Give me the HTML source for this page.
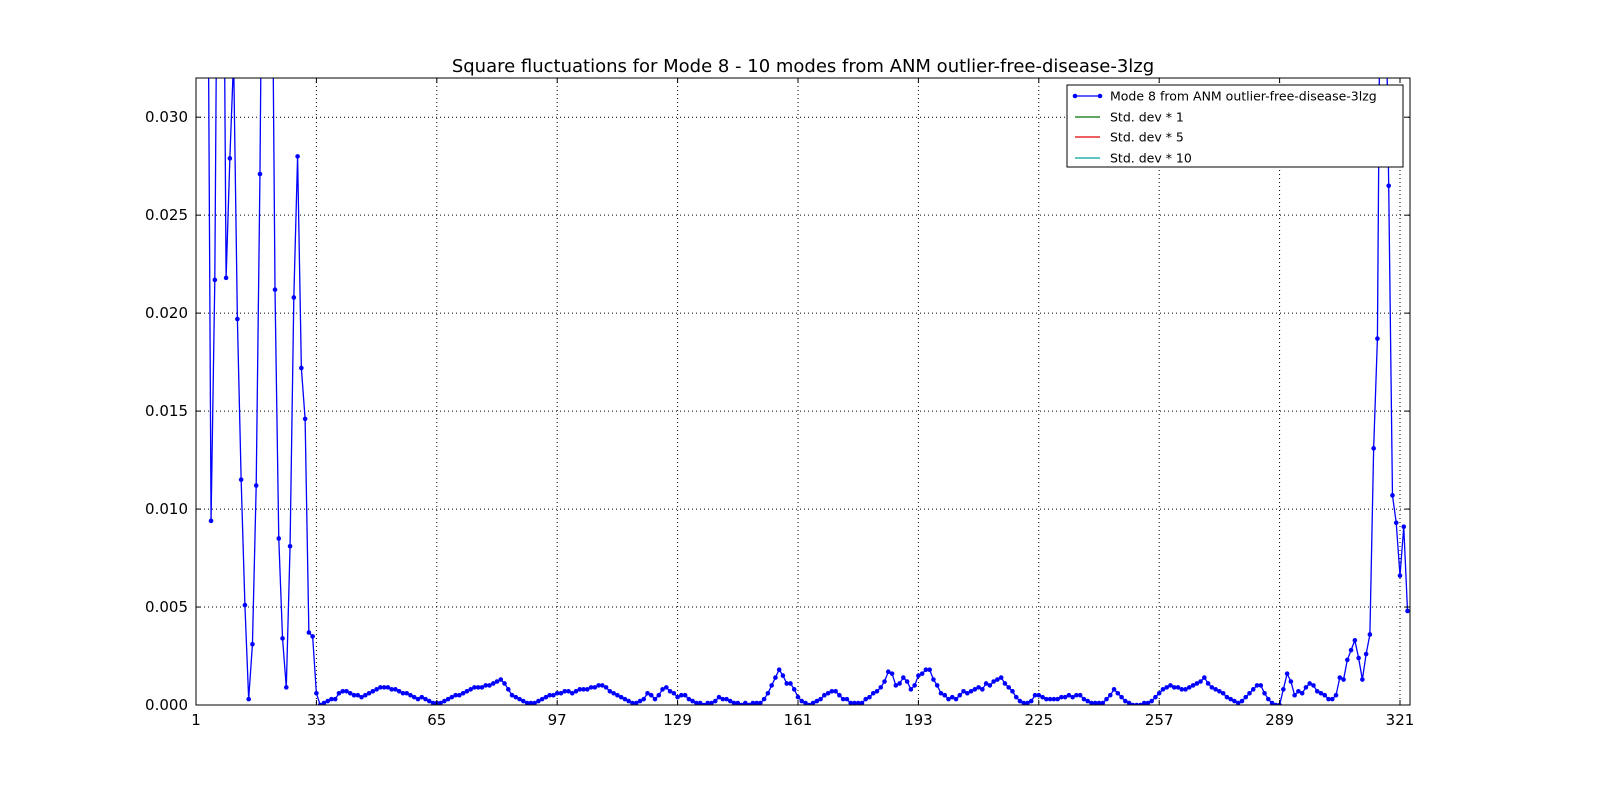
<!DOCTYPE html>
<html><head><meta charset="utf-8"><style>
body{margin:0;background:#fff}
svg text{font-family:"DejaVu Sans","Liberation Sans",sans-serif;fill:#000}
</style></head><body>
<svg id="chart" width="1600" height="800">
<text x="803" y="72" font-size="18" text-anchor="middle">Square fluctuations for Mode 8 - 10 modes from ANM outlier-free-disease-3lzg</text>
<defs><clipPath id="plotclip"><rect x="196" y="78" width="1214" height="627"/></clipPath></defs>
<g id="grid"></g>
<g id="series" clip-path="url(#plotclip)"></g>
<rect x="196" y="78" width="1214" height="627" fill="none" stroke="#000" stroke-width="1"/>
<g id="axes"></g>
<g>
<rect x="1067" y="85" width="336" height="82" fill="#fff" stroke="#000"/>
<g><line x1="1075" y1="96" x2="1100" y2="96" stroke="#0000ff" stroke-width="1.2"/><circle cx="1075" cy="96" r="2.3" fill="#0000ff"/><circle cx="1100" cy="96" r="2.3" fill="#0000ff"/><text x="1110" y="100.5" font-size="12.5">Mode 8 from ANM outlier-free-disease-3lzg</text></g>
<g><line x1="1075" y1="117" x2="1100" y2="117" stroke="#007000" stroke-width="1.2"/><text x="1110" y="121.5" font-size="12.5">Std. dev * 1</text></g>
<g><line x1="1075" y1="137" x2="1100" y2="137" stroke="#e00000" stroke-width="1.2"/><text x="1110" y="141.5" font-size="12.5">Std. dev * 5</text></g>
<g><line x1="1075" y1="158" x2="1100" y2="158" stroke="#00a0a0" stroke-width="1.2"/><text x="1110" y="162.5" font-size="12.5">Std. dev * 10</text></g>
</g>
</svg>
<script>
const xTicks=[1,33,65,97,129,161,193,225,257,289,321];
const yTicks=[0,0.005,0.010,0.015,0.020,0.025,0.030];
const yTickLabels=["0.000","0.005","0.010","0.015","0.020","0.025","0.030"];
const fluct=[
.06,.06,.05,.045,.0094,.0217,.05,.05,.0218,.0279,
.033,.0197,.0115,.0051,.0003,.0031,.0112,.0271,.05,.05,
.045,.0212,.0085,.0034,.0009,.0081,.0208,.0280,.0172,.0146,
.0037,.0035,.0006,.0000,.0001,.0002,.0003,.0003,.0006,.0007,
.0007,.0006,.0005,.0005,.0004,.0005,.0006,.0007,.0008,.0009,
.0009,.0009,.0008,.0008,.0007,.0006,.0006,.0005,.0004,.0003,
.0004,.0003,.0002,.0001,.0001,.0001,.0002,.0003,.0004,.0005,
.0005,.0006,.0007,.0008,.0009,.0009,.0009,.0010,.0010,.0011,
.0012,.0013,.0011,.0008,.0005,.0004,.0003,.0002,.0001,.0001,
.0001,.0002,.0003,.0004,.0005,.0005,.0006,.0006,.0007,.0007,
.0006,.0007,.0008,.0008,.0008,.0009,.0009,.0010,.0010,.0009,
.0007,.0006,.0005,.0004,.0003,.0002,.0001,.0001,.0002,.0003,
.0006,.0005,.0003,.0005,.0008,.0009,.0007,.0006,.0004,.0005,
.0005,.0003,.0002,.0001,.0001,.0000,.0001,.0001,.0002,.0004,
.0003,.0003,.0002,.0001,.0001,.0000,.0001,.0000,.0001,.0001,
.0001,.0003,.0006,.0010,.0014,.0018,.0015,.0011,.0011,.0008,
.0004,.0002,.0001,.0000,.0001,.0002,.0003,.0005,.0006,.0007,
.0007,.0005,.0003,.0003,.0001,.0001,.0001,.0001,.0003,.0004,
.0006,.0007,.0009,.0012,.0017,.0016,.0010,.0011,.0014,.0012,
.0008,.0010,.0015,.0016,.0018,.0018,.0013,.0010,.0006,.0005,
.0003,.0004,.0003,.0005,.0007,.0006,.0007,.0008,.0009,.0008,
.0011,.0010,.0012,.0013,.0014,.0011,.0009,.0007,.0004,.0002,
.0001,.0001,.0002,.0005,.0005,.0004,.0003,.0003,.0003,.0003,
.0004,.0004,.0005,.0004,.0005,.0005,.0003,.0002,.0001,.0001,
.0001,.0001,.0003,.0005,.0008,.0006,.0004,.0002,.0001,.0000,
.0000,.0000,.0001,.0001,.0002,.0004,.0006,.0008,.0009,.0010,
.0009,.0009,.0008,.0008,.0009,.0010,.0011,.0012,.0014,.0011,
.0009,.0008,.0007,.0006,.0004,.0003,.0002,.0001,.0002,.0004,
.0006,.0008,.0010,.0010,.0006,.0003,.0001,.0000,.0000,.0008,
.0016,.0012,.0005,.0007,.0006,.0009,.0011,.0010,.0007,.0006,
.0005,.0003,.0003,.0005,.0014,.0013,.0023,.0028,.0033,.0024,
.0013,.0026,.0036,.0131,.0187,.045,.04,.0265,.0107,.0093,
.0066,.0091,.0048];
const NS="http://www.w3.org/2000/svg";
const L=196,R=1410,T=78,B=705,XMIN=1,XMAX=323.66,YMAX=0.032;
const xs=v=>L+(v-XMIN)/(XMAX-XMIN)*(R-L);
const ys=v=>B-v/YMAX*(B-T);
function mk(tag,attrs,parent){const e=document.createElementNS(NS,tag);for(const k in attrs)e.setAttribute(k,attrs[k]);parent.appendChild(e);return e;}
const grid=document.getElementById('grid'),axes=document.getElementById('axes'),series=document.getElementById('series');
xTicks.forEach(t=>{const x=xs(t);
 const g=mk('line',{x1:x,x2:x,y1:T,y2:B,stroke:'#000','stroke-dasharray':'1,3','stroke-width':1},grid);
 
 
 mk('line',{x1:x,x2:x,y1:B,y2:B-5,stroke:'#000'},axes);
 mk('line',{x1:x,x2:x,y1:T,y2:T+5,stroke:'#000'},axes);
 const tx=mk('text',{x:x,y:B+20,'font-size':15,'text-anchor':'middle'},axes);tx.textContent=t;
 
 
});
yTicks.forEach((t,i)=>{const y=ys(t);
 const g=mk('line',{x1:L,x2:R,y1:y,y2:y,stroke:'#000','stroke-dasharray':'1,3','stroke-width':1},grid);
 
 
 mk('line',{x1:L,x2:L+5,y1:y,y2:y,stroke:'#000'},axes);
 mk('line',{x1:R,x2:R-5,y1:y,y2:y,stroke:'#000'},axes);
 const tx=mk('text',{x:L-8,y:y+5,'font-size':15,'text-anchor':'end'},axes);tx.textContent=yTickLabels[i];
 
 
});
const pts=fluct.map((v,i)=>xs(i+1).toFixed(2)+','+ys(v).toFixed(2)).join(' ');
const line=mk('polyline',{points:pts,fill:'none',stroke:'#0000ff','stroke-width':1.3},series);


fluct.forEach((v,i)=>{const c=mk('circle',{cx:xs(i+1),cy:ys(v),r:2.3,fill:'#0000ff'},series);
 
 
});
</script>
</body></html>
